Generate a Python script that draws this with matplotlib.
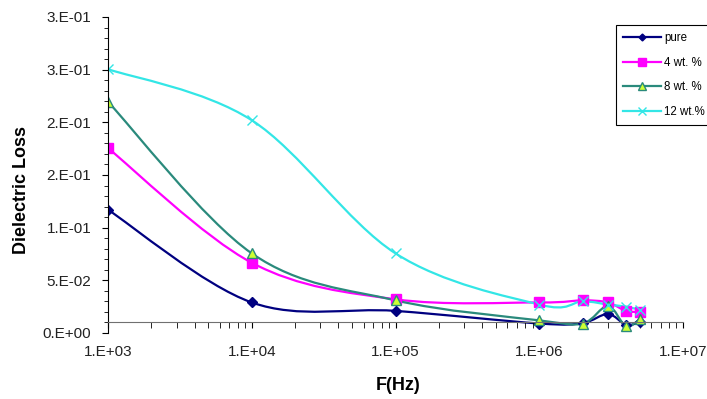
import numpy as np
import matplotlib.pyplot as plt
from matplotlib.path import Path
from matplotlib.patches import PathPatch
from matplotlib.lines import Line2D
from matplotlib.ticker import FixedLocator, LogLocator, MultipleLocator, NullFormatter

plt.rcParams["font.family"] = ["Liberation Sans", "DejaVu Sans"]

# data
freq = [1e3, 1e4, 1e5, 1e6, 2e6, 3e6, 4e6, 5e6]
pure = [0.117, 0.029, 0.021, 0.009, 0.0095, 0.018, 0.008, 0.010]
wt4 = [0.1755, 0.0667, 0.032, 0.029, 0.031, 0.029, 0.021, 0.020]
wt8 = [0.2195, 0.0756, 0.031, 0.012, 0.009, 0.0256, 0.0066, 0.013]
wt12 = [0.2505, 0.202, 0.0756, 0.027, 0.030, 0.027, 0.025, 0.022]

series_names = ["pure", "4 wt. %", "8 wt. %", "12 wt.%"]
xtick_vals = [1e3, 1e4, 1e5, 1e6, 1e7]
xtick_labels = ["1.E+03", "1.E+04", "1.E+05", "1.E+06", "1.E+07"]
ytick_vals = [0, 0.05, 0.1, 0.15, 0.2, 0.25, 0.3]
ytick_labels = ["0.E+00", "5.E-02", "1.E-01", "2.E-01", "2.E-01", "3.E-01", "3.E-01"]


def smooth_path(xs, ys):
    # excel-like smoothed line: bezier through the points (in log-x space)
    lx = np.log10(xs)
    ys = np.asarray(ys, float)
    n = len(lx)
    verts = [(lx[0], ys[0])]
    codes = [Path.MOVETO]
    for i in range(n - 1):
        i0 = max(i - 1, 0)
        i3 = min(i + 2, n - 1)
        c1 = (lx[i] + (lx[i + 1] - lx[i0]) / 6, ys[i] + (ys[i + 1] - ys[i0]) / 6)
        c2 = (lx[i + 1] - (lx[i3] - lx[i]) / 6, ys[i + 1] - (ys[i3] - ys[i]) / 6)
        verts += [c1, c2, (lx[i + 1], ys[i + 1])]
        codes += [Path.CURVE4] * 3
    verts = [(10 ** a, b) for a, b in verts]
    return Path(verts, codes)


fig = plt.figure(figsize=(7.07, 3.99), dpi=100)
ax = fig.add_axes([108 / 707, 1 - 333 / 399, (683 - 108) / 707, (333 - 17) / 399])

styles = [
    dict(color="#000080", marker="D", ms=5, mfc="#000080", mec="#000080"),
    dict(color="#ff00ff", marker="s", ms=7.5, mfc="#ff00ff", mec="#ff00ff"),
    dict(color="#2a8a7c", marker="^", ms=7.5, mfc="#ccff33", mec="#2a8a7c"),
    dict(color="#33e6e6", marker="x", ms=7.5, mfc="#33e6e6", mec="#33e6e6"),
]

handles = []
for vals, st, name in zip([pure, wt4, wt8, wt12], styles, series_names):
    ax.add_patch(PathPatch(smooth_path(freq, vals), fill=False, edgecolor=st["color"],
                           lw=1.6, transform=ax.transData))
    ax.plot(freq, vals, linestyle="none", marker=st["marker"], ms=st["ms"],
            mfc=st["mfc"], mec=st["mec"], mew=1.0)
    handles.append(Line2D([], [], color=st["color"], lw=1.6, marker=st["marker"],
                          ms=st["ms"] * 0.7, mfc=st["mfc"], mec=st["mec"]))

ax.set_xscale("log")
ax.set_xlim(1e3, 1e7)
ax.set_ylim(0, 0.3)

ax.xaxis.set_major_locator(FixedLocator(xtick_vals))
ax.set_xticklabels(xtick_labels)
ax.xaxis.set_minor_locator(LogLocator(base=10, subs=np.arange(2, 10)))
ax.xaxis.set_minor_formatter(NullFormatter())
ax.yaxis.set_major_locator(FixedLocator(ytick_vals))
ax.set_yticklabels(ytick_labels)
ax.yaxis.set_minor_locator(MultipleLocator(0.01))

ax.spines["top"].set_visible(False)
ax.spines["right"].set_visible(False)
ax.spines["bottom"].set_position(("data", 0.01))
ax.spines["bottom"].set_color("#707070")
ax.spines["left"].set_color("black")

ax.tick_params(axis="both", which="both", direction="out", colors="black",
               labelsize=11, labelcolor="#222222")
ax.tick_params(axis="y", which="major", length=4, pad=8)
ax.tick_params(axis="y", which="minor", length=3)
ax.tick_params(axis="x", which="major", length=4, pad=12)
ax.tick_params(axis="x", which="minor", length=4)

fig.text(22 / 707, 1 - 190 / 399, "Dielectric Loss", rotation=90, ha="center",
         va="center", fontsize=13, fontweight="bold")
fig.text(398 / 707, 1 - 385 / 399, "F(Hz)", ha="center", va="center",
         fontsize=13, fontweight="bold")

leg = fig.legend(handles, series_names, loc="upper left",
                 bbox_to_anchor=(616 / 707, 1 - 25 / 399),
                 bbox_transform=fig.transFigure, fontsize=8.3, frameon=True,
                 fancybox=False, edgecolor="black", framealpha=1,
                 handlelength=3.3, labelspacing=1.1, borderpad=0.6,
                 handletextpad=0.3, borderaxespad=0)
leg.get_frame().set_linewidth(0.8)

plt.savefig("out.png", dpi=100)
